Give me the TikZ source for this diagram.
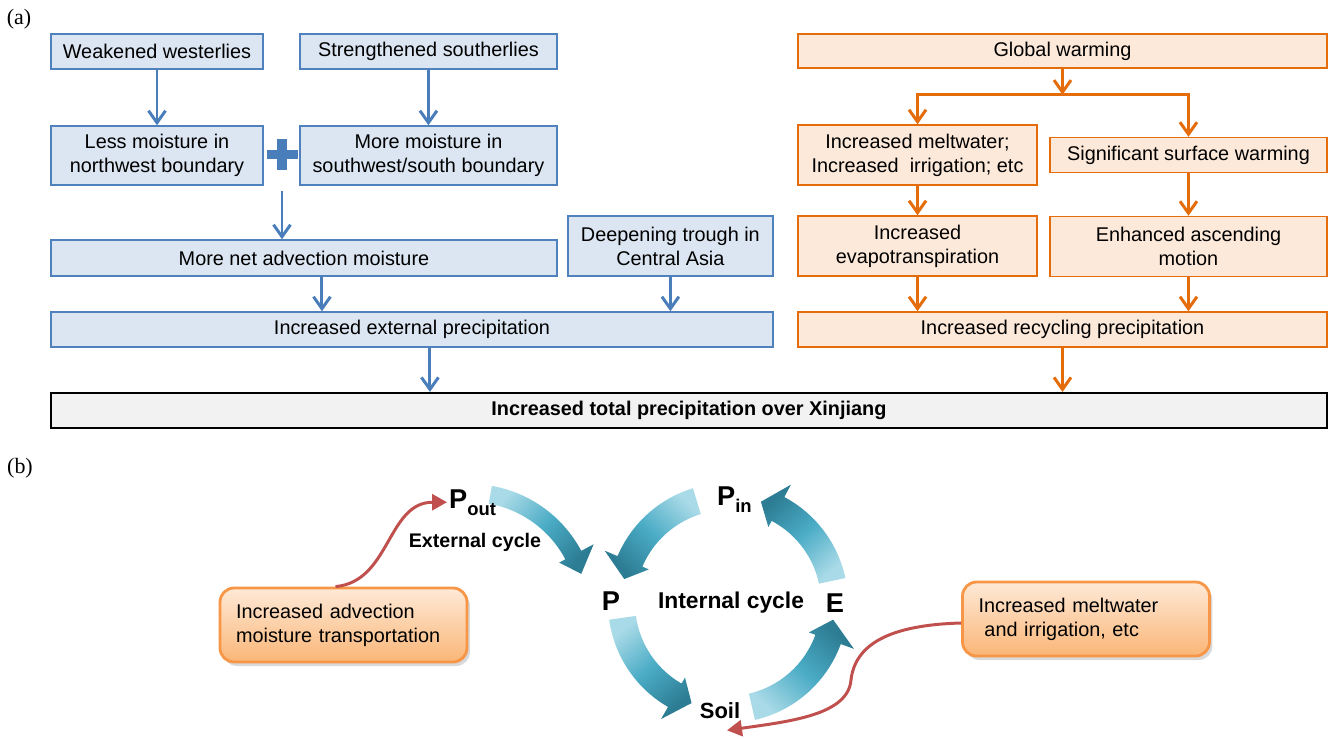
\documentclass[tikz,border=0pt]{standalone}
\usepackage{fontspec}
\setmainfont{Liberation Sans}
\newfontfamily\panelfont{Liberation Serif}
\usetikzlibrary{positioning, calc, arrows.meta, shadows}

\definecolor{blueline}{HTML}{4F81BD}
\definecolor{bluefill}{HTML}{DCE6F2}
\definecolor{bluearrow}{HTML}{4A7EBB}
\definecolor{orangeline}{HTML}{E46C0A}
\definecolor{orangefill}{HTML}{FDE9D9}
\definecolor{grayfill}{HTML}{F2F2F2}
\definecolor{softorange}{HTML}{F79646}
\definecolor{peachtop}{HTML}{FEE9D7}
\definecolor{peachbottom}{HTML}{FAB677}
\definecolor{curvered}{HTML}{C0504D}
\definecolor{tealdark}{HTML}{2C7C93}
\definecolor{tealmid}{HTML}{4BACC6}
\definecolor{teallight}{HTML}{A9DAE7}

\newcommand{\boxfont}{\fontsize{11.3}{13.6}\selectfont}
\newcommand{\cyclearrow}[7]{%
  \begin{scope}[shift={(#1)}]
    \shade[cyclefill, shading angle=#7]
      plot[domain=#4:#5, samples=30] (\x:#2) -- (#5:{#2-7}) -- (#6:{(#2+#3)/2}) -- (#5:{#3+14})
      -- plot[domain=#5:#4, samples=30] (\x:#3) -- cycle;
  \end{scope}}

\begin{document}
\begin{tikzpicture} [x=0.02cm, y=-0.02cm,
      bluebox/.style={draw=blueline, line width=0.8pt, fill=bluefill, rectangle, align=center, font=\boxfont},
      orangebox/.style={draw=orangeline, line width=0.8pt, fill=orangefill, rectangle, align=center, font=\boxfont},
      barrow/.style={draw=bluearrow, line width=1.7pt, -{Straight Barb[length=2.4mm, width=3.4mm]}},
      oarrow/.style={draw=orangeline, line width=1.7pt, -{Straight Barb[length=2.4mm, width=3.4mm]}},
      roundbox/.style={draw=softorange, line width=1.6pt, rounded corners=0.28cm, top color=peachtop, bottom color=peachbottom,
        align=left, font=\boxfont, text width=4.3cm, inner xsep=0.32cm, minimum height=1.48cm,
        drop shadow={opacity=0.3, shadow xshift=0.6mm, shadow yshift=-0.8mm}},
      redcurve/.style={draw=curvered, line width=1.7pt, -{Triangle[length=3mm, width=3.2mm]}},
      cyclelbl/.style={inner sep=1pt, font=\bfseries},
      cyclefill/.style={top color=tealdark, bottom color=teallight, middle color=tealmid}
   ]
    \useasboundingbox (0,0) rectangle (1330,738);

    \node[font=\panelfont\fontsize{12.5}{14}\selectfont] (lblA) at (19,19) {(a)};
    \node[bluebox, minimum width=4.24cm, minimum height=0.7cm] (ndWest) at (157,51.5) {Weakened westerlies};
    \node[bluebox, right of=ndWest, node distance=5.43cm, minimum width=5.14cm, minimum height=0.7cm] (ndSouth) {Strengthened southerlies};
    \node[bluebox, below of=ndWest, node distance=2.08cm, minimum width=4.24cm, minimum height=1.18cm] (ndLess) {Less moisture in\\northwest boundary};
    \node[bluebox, below of=ndSouth, node distance=2.08cm, minimum width=5.14cm, minimum height=1.18cm] (ndMore) {More moisture in\\southwest/south boundary};
    \node[bluebox, below of=ndLess, node distance=2.05cm, xshift=2.94cm, minimum width=10.12cm, minimum height=0.72cm] (ndNet) {More net advection moisture};
    \node[bluebox, right of=ndNet, node distance=7.33cm, yshift=0.24cm, minimum width=4.1cm, minimum height=1.2cm] (ndTrough) {Deepening trough in\\Central Asia};
    \node[bluebox, below of=ndNet, node distance=1.43cm, xshift=2.16cm, minimum width=14.44cm, minimum height=0.7cm] (ndExt) {Increased external precipitation};
    \node[draw=black, line width=1.1pt, fill=grayfill, below of=ndExt, node distance=1.62cm, xshift=5.54cm, minimum width=25.52cm, minimum height=0.7cm, font=\boxfont\bfseries] (ndTotal) {Increased total precipitation over Xinjiang};

    \coordinate (ndPlus) at (282,154.5);
    \draw[barrow] (ndWest) -- (ndLess);
    \draw[barrow] (ndSouth) -- (ndMore);
    \draw[draw=bluearrow, line width=5.5pt] ($(ndPlus)+(0,-15.5)$) -- ($(ndPlus)+(0,15.5)$) ($(ndPlus)+(-15.5,0)$) -- ($(ndPlus)+(15.5,0)$);
    \draw[barrow] ($(ndPlus)+(0,36)$) -- (ndPlus |- ndNet.north);
    \draw[barrow] ($(ndNet.south)+(18,0)$) coordinate (netOut) -- (netOut |- ndExt.north);
    \draw[barrow] (ndTrough) -- (ndTrough |- ndExt.north);
    \draw[barrow] ($(ndExt.south)+(18,0)$) coordinate (extOut) -- (extOut |- ndTotal.north);

    \node[orangebox, minimum width=10.58cm, minimum height=0.68cm] (ndGlobal) at (1062.5,51) {Global warming};
    \node[orangebox, below of=ndGlobal, node distance=2.08cm, xshift=-2.9cm, minimum width=4.78cm, minimum height=1.2cm] (ndMelt) {Increased meltwater;\\Increased~ irrigation; etc};
    \node[orangebox, right of=ndMelt, node distance=5.42cm, minimum width=5.54cm, minimum height=0.7cm] (ndSurf) {Significant surface warming};
    \node[orangebox, below of=ndMelt, node distance=1.82cm, minimum width=4.78cm, minimum height=1.2cm] (ndEvap) {Increased\\evapotranspiration};
    \node[orangebox, below of=ndSurf, node distance=1.83cm, minimum width=5.54cm, minimum height=1.2cm] (ndAscend) {Enhanced ascending\\motion};
    \node[orangebox, below of=ndEvap, node distance=1.67cm, xshift=2.9cm, minimum width=10.58cm, minimum height=0.7cm] (ndRecyc) {Increased recycling precipitation};

    \coordinate (ndSplit) at ($(ndGlobal.south)+(0,26)$);
    \draw[oarrow] (ndGlobal) -- (ndSplit);
    \draw[oarrow] (ndSplit) -| (ndMelt);
    \draw[oarrow] (ndSplit) -| (ndSurf);
    \draw[oarrow] (ndMelt) -- (ndEvap);
    \draw[oarrow] (ndSurf) -- (ndAscend);
    \draw[oarrow] (ndEvap) -- (ndEvap |- ndRecyc.north);
    \draw[oarrow] (ndAscend) -- (ndAscend |- ndRecyc.north);
    \draw[oarrow] (ndRecyc) -- (ndRecyc |- ndTotal.north);

    \node[font=\panelfont\fontsize{12.5}{14}\selectfont] (lblB) at (20,468) {(b)};
    \node[roundbox] (ndAdv) at (343.5,625) {Increased advection\\moisture transportation};
    \node[roundbox] (ndMeltIrr) at (1086,619) {Increased meltwater\\\hspace*{0.3em}and irrigation, etc};

    \coordinate (cycC) at (728,603);
    \coordinate (extC) at (470,610);
    \cyclearrow{cycC}{93}{120}{-12}{-62}{-72}{42}
    \cyclearrow{cycC}{93}{120}{-107}{-157}{-167}{137}
    \cyclearrow{cycC}{93}{120}{-188}{-240}{-250}{220}
    \cyclearrow{cycC}{93}{120}{-283}{-340}{-351}{317}
    \cyclearrow{extC}{108}{126}{-80}{-28}{-18}{229}

    \node[cyclelbl, anchor=base west, font=\bfseries\fontsize{15.5}{16}\selectfont] (ndPout) at (447,508) {P\raisebox{-0.14cm}{\fontsize{10.5}{11}\selectfont out}};
    \node[cyclelbl, anchor=base west, font=\bfseries\fontsize{15.5}{16}\selectfont] (ndPin) at (715,505) {P\raisebox{-0.14cm}{\fontsize{10.5}{11}\selectfont in}};
    \node[cyclelbl, anchor=base, font=\bfseries\fontsize{11.2}{13}\selectfont] (ndExtLbl) at (475,547) {External cycle};
    \node[cyclelbl, anchor=base, font=\bfseries\fontsize{15.5}{16}\selectfont] (ndP) at (611,610) {P};
    \node[cyclelbl, anchor=base, font=\bfseries\fontsize{13}{15}\selectfont] (ndIntLbl) at (731,608) {Internal cycle};
    \node[cyclelbl, anchor=base, font=\bfseries\fontsize{15.5}{16}\selectfont] (ndE) at (835,612) {E};
    \node[cyclelbl, anchor=base, font=\bfseries\fontsize{12.5}{14}\selectfont] (ndSoil) at (720,718) {Soil};

    \coordinate (ndBend) at (851,680);
    \draw[redcurve] ($(ndAdv.north)+(-8,0)$) .. controls +(55,-5) and +(-60,0) .. (ndPout.west);
    \draw[redcurve] ($(ndMeltIrr.west)+(0,4)$) .. controls +(-73,2) and +(4,-35) .. (ndBend) .. controls +(-3,35) and +(63,-9) .. ($(ndSoil.south)+(7,10)$);

  \end{tikzpicture}
\end{document}
